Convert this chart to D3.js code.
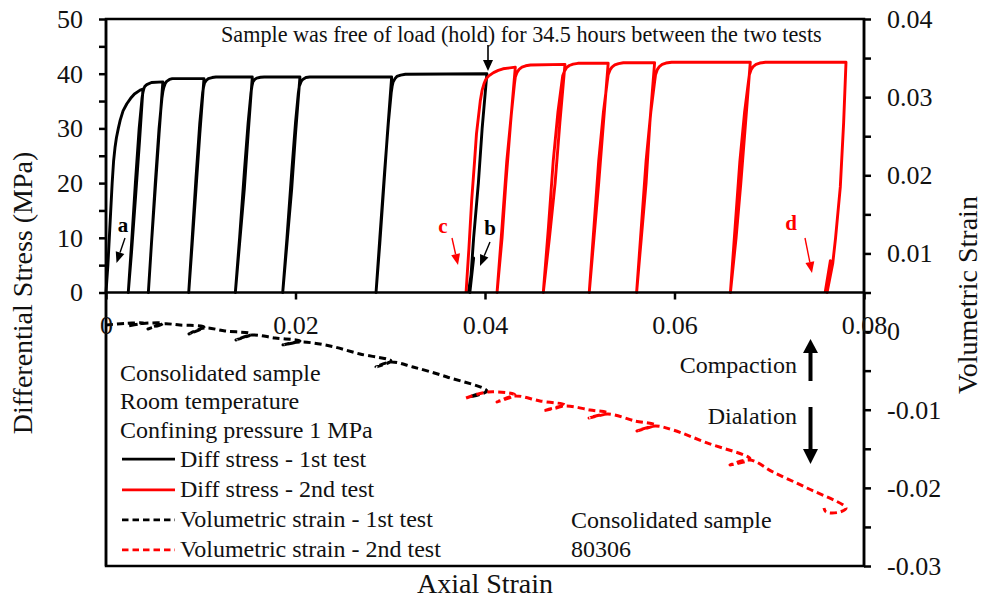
<!DOCTYPE html>
<html>
<head>
<meta charset="utf-8">
<script src="https://cdn.jsdelivr.net/npm/d3@7/dist/d3.min.js"></script>
<style>
  body { margin: 0; background: #fff; }
  svg { display: block; }
  text { font-family: "Liberation Serif", "Times New Roman", serif; fill: #111; }
</style>
</head>
<body>
<svg id="chart" width="983" height="600"></svg>
<script>
// Axis ticks
const strainTicks = [0, 0.02, 0.04, 0.06, 0.08];
const stressTicks = [0, 5, 10, 15, 20, 25, 30, 35, 40, 45, 50];
const stressLabels = [0, 10, 20, 30, 40, 50];
const volTicks = [-0.03, -0.025, -0.02, -0.015, -0.01, -0.005, 0, 0.005, 0.01, 0.015, 0.02, 0.025, 0.03, 0.035, 0.04];
const volLabels = [-0.03, -0.02, -0.01, 0, 0.01, 0.02, 0.03, 0.04];

// Differential stress (MPa) vs axial strain, 1st test (load/unload cycles)
const stress1 = [
  [0,0],[0.0002,5],[0.00035,10],[0.0005,15],[0.00065,20],[0.0008,24],[0.00095,26.5],[0.0011,28.3],[0.0013,30],[0.0015,31.5],[0.0018,33.2],[0.0022,34.5],[0.0026,35.5],[0.003,36.3],[0.0036,37],[0.0039,37.2],
  [0.00355,28],[0.0031,17],[0.0027,7.5],[0.00235,0],
  [0.0027,9],[0.0031,20],[0.0035,30],[0.0038,35.5],[0.0039,36.6],[0.004,37.3],[0.0041,37.7],[0.0043,38],[0.0048,38.4],[0.006,38.5],
  [0.0056,29],[0.0052,19],[0.0048,9],[0.00447,0],
  [0.0048,9],[0.0052,20],[0.0056,30],[0.0059,35.5],[0.006,36.7],[0.0061,37.5],[0.00625,38.2],[0.0064,38.6],[0.0067,38.95],[0.007,39.1],[0.01034,39.1],
  [0.0099,29],[0.0095,19],[0.0091,9],[0.00873,0],
  [0.0091,10],[0.0095,21],[0.0099,31],[0.0102,36.5],[0.0103,37.6],[0.0104,38.3],[0.0106,38.8],[0.0108,39.1],[0.0112,39.3],[0.0116,39.4],[0.01544,39.4],
  [0.015,29],[0.0146,19],[0.0141,9],[0.01365,0],
  [0.0141,10],[0.0146,22],[0.015,31],[0.0153,36.5],[0.0154,37.7],[0.0155,38.5],[0.0157,38.95],[0.0159,39.2],[0.0163,39.35],[0.0167,39.4],[0.02047,39.4],
  [0.02,29],[0.0196,19],[0.0191,9],[0.01865,0],
  [0.0191,10],[0.0196,22],[0.02,31],[0.0203,36.5],[0.0204,37.7],[0.0206,38.6],[0.0208,39],[0.0211,39.3],[0.0215,39.4],[0.022,39.4],[0.03015,39.4],
  [0.0297,29],[0.0293,19],[0.0289,9],[0.0285,0],
  [0.0289,10],[0.0294,22],[0.0298,31],[0.0301,36.5],[0.0302,37.7],[0.0303,38.5],[0.0305,39.1],[0.0307,39.5],[0.0311,39.75],[0.0316,39.9],[0.0402,40],
  [0.0397,30],[0.0393,20],[0.0388,10],[0.0384,0],[0.0388,6.3],[0.03825,0]
];

// Differential stress (MPa) vs axial strain, 2nd test
const stress2 = [
  [0.038,0],[0.0383,8],[0.0386,17],[0.0389,24],[0.0391,29],[0.0395,35],[0.0397,37],[0.0399,38.2],[0.0401,39],[0.0404,39.6],[0.0409,40.2],[0.0414,40.6],[0.0419,40.9],[0.0432,41.2],
  [0.0427,31],[0.0422,20],[0.0418,10],[0.04127,0],
  [0.0418,12],[0.0423,24],[0.0428,33],[0.0431,38],[0.0432,39.4],[0.0434,40.3],[0.0436,40.8],[0.0439,41.2],[0.0443,41.45],[0.0448,41.6],[0.04844,41.7],
  [0.0479,31],[0.0474,20],[0.0468,10],[0.04615,0],
  [0.0467,12],[0.0472,24],[0.0477,33],[0.0481,38.3],[0.0482,39.6],[0.0484,40.5],[0.0486,41.1],[0.0489,41.5],[0.0493,41.75],[0.0498,41.9],[0.053,41.9],
  [0.0525,31],[0.052,20],[0.0515,10],[0.051,0],
  [0.0515,12],[0.052,24],[0.0525,33],[0.0529,38.5],[0.053,39.8],[0.0532,40.7],[0.0534,41.2],[0.0537,41.6],[0.0541,41.85],[0.0546,42],[0.0579,42],
  [0.0574,31],[0.057,20],[0.0565,10],[0.056,0],
  [0.0565,12],[0.057,24],[0.0575,33],[0.0579,38.5],[0.058,39.8],[0.0582,40.8],[0.0584,41.3],[0.0587,41.7],[0.0591,41.95],[0.0597,42.1],[0.068,42.1],
  [0.0675,31],[0.067,20],[0.0665,10],[0.0659,0],
  [0.0664,12],[0.0669,24],[0.0674,33],[0.0678,38.5],[0.0679,39.8],[0.0681,40.8],[0.0683,41.3],[0.0686,41.7],[0.069,41.95],[0.0696,42.1],[0.0781,42.1],
  [0.07785,31],[0.0775,19.3],[0.077,10],[0.0767,5.3],[0.0761,0],[0.07645,5.8],[0.0759,0]
];

// Volumetric strain vs axial strain, 1st test
const vol1 = [
  [0,0.00084],[0.002,0.00104],[0.0039,0.0011],[0.00232,0.00072],[0.0039,0.00104],
  [0.006,0.00104],[0.00443,0.00033],[0.006,0.00097],[0.0078,0.00084],
  [0.01034,0.00059],[0.00876,-0.00031],[0.01034,0.00046],[0.01256,0.00008],
  [0.01541,-0.00031],[0.01372,-0.00107],[0.01541,-0.00044],[0.01784,-0.00082],
  [0.02047,-0.0012],[0.01868,-0.0017],[0.02047,-0.00133],[0.02364,-0.00184],[0.02681,-0.00287],
  [0.03008,-0.00376],[0.0285,-0.00453],[0.03008,-0.00389],[0.0324,-0.00453],[0.036,-0.00581],
  [0.0402,-0.0076],[0.0384,-0.00837],[0.0392,-0.008]
];

// Volumetric strain vs axial strain, 2nd test
const vol2 = [
  [0.038,-0.0085],[0.04032,-0.00773],[0.04317,-0.00811],[0.04127,-0.009],[0.04317,-0.00824],
  [0.0458,-0.00888],[0.04844,-0.00939],[0.04612,-0.01016],[0.04844,-0.00952],
  [0.05108,-0.01003],[0.05298,-0.01041],[0.05098,-0.01105],[0.05298,-0.01054],
  [0.05583,-0.01144],[0.05794,-0.01195],[0.05604,-0.01272],[0.05794,-0.01208],
  [0.05984,-0.01259],[0.06343,-0.01425],[0.06797,-0.0163],[0.06586,-0.01707],[0.06797,-0.01643],
  [0.0704,-0.01797],[0.07398,-0.02002],[0.0781,-0.02258],[0.07747,-0.02309],[0.07599,-0.02309],[0.07578,-0.02258]
];

// Text blocks
const conditionLines = ["Consolidated sample", "Room temperature", "Confining pressure 1 MPa"];
const legendLabels = ["Diff stress - 1st test", "Diff stress - 2nd test", "Volumetric strain - 1st test", "Volumetric strain - 2nd test"];
const sampleLines = ["Consolidated sample", "80306"];
const holdNote = "Sample was free of load (hold) for 34.5 hours between the two tests";

const svg = d3.select("#chart");
const W = 983, H = 600;
svg.append("rect").attr("width", W).attr("height", H).attr("fill", "#fff");

const L = 106, R = 864, T = 19, B = 566;
const x = d3.scaleLinear().domain([0, 0.08]).range([L, R]);
const yS = d3.scaleLinear().domain([0, 50]).range([292.5, T]);
const yV = d3.scaleLinear().domain([-0.03, 0.04]).range([B, T]);

const RED = "#ff0000", BLACK = "#000";
const FS_TICK = 26;

// Frame
svg.append("rect").attr("x", L).attr("y", T).attr("width", R - L).attr("height", B - T)
  .attr("fill", "none").attr("stroke", BLACK).attr("stroke-width", 2.5);

// Curves
const lineS = d3.line().x(d => x(d[0])).y(d => yS(d[1]));
const lineV = d3.line().x(d => x(d[0])).y(d => yV(d[1])).curve(d3.curveCatmullRom.alpha(0.5));

const plot = svg.append("g");
plot.append("path").datum(stress1).attr("d", lineS).attr("fill", "none")
  .attr("stroke", BLACK).attr("stroke-width", 2.9).attr("stroke-linejoin", "round");
plot.append("path").datum(stress2).attr("d", lineS).attr("fill", "none")
  .attr("stroke", RED).attr("stroke-width", 2.9).attr("stroke-linejoin", "round");
plot.append("path").datum(vol1).attr("d", lineV).attr("fill", "none")
  .attr("stroke", BLACK).attr("stroke-width", 3).attr("stroke-dasharray", "7,4");
plot.append("path").datum(vol2).attr("d", lineV).attr("fill", "none")
  .attr("stroke", RED).attr("stroke-width", 3).attr("stroke-dasharray", "7,4");

// Left axis: differential stress
const axL = svg.append("g").attr("transform", `translate(${L},0)`)
  .call(d3.axisLeft(yS).tickValues(stressTicks).tickSize(7).tickPadding(16)
    .tickFormat(d => stressLabels.includes(d) ? d3.format("d")(d) : ""));
// Right axis: volumetric strain
const axR = svg.append("g").attr("transform", `translate(${R},0)`)
  .call(d3.axisRight(yV).tickValues(volTicks).tickSize(7).tickPadding(16)
    .tickFormat(d => volLabels.some(v => Math.abs(v - d) < 1e-9) ? String(+d.toFixed(2)) : ""));
// Bottom axis at zero stress
const axB = svg.append("g").attr("transform", `translate(0,${yS(0)})`)
  .call(d3.axisBottom(x).tickValues(strainTicks).tickSize(7).tickPadding(16)
    .tickFormat(d => d === 0 ? "0" : String(d)));

[axL, axR, axB].forEach(g => {
  g.select(".domain").attr("stroke", BLACK).attr("stroke-width", 2.5);
  g.selectAll(".tick line").attr("stroke", BLACK).attr("stroke-width", 2.5);
  g.selectAll(".tick text").attr("font-size", FS_TICK).attr("fill", "#111")
    .attr("font-family", '"Liberation Serif", "Times New Roman", serif');
});
axL.select(".domain").attr("d", `M0,${T}V${B}`);
axR.select(".domain").attr("d", `M0,${T}V${B}`);
axB.select(".domain").attr("d", `M${L},0H${R}`);

// Axis titles
svg.append("text").attr("transform", "translate(32,293) rotate(-90)")
  .attr("text-anchor", "middle").attr("font-size", 28).text("Differential Stress (MPa)");
svg.append("text").attr("transform", "translate(977,295) rotate(-90)")
  .attr("text-anchor", "middle").attr("font-size", 28).text("Volumetric Strain");
svg.append("text").attr("x", 485).attr("y", 593)
  .attr("text-anchor", "middle").attr("font-size", 28).text("Axial Strain");

// Hold note with arrow
svg.append("text").attr("x", 221).attr("y", 42).attr("font-size", 22.2).text(holdNote);

function arrow(x1, y1, x2, y2, color, headLen, headW, width) {
  const ang = Math.atan2(y2 - y1, x2 - x1);
  const bx = x2 - headLen * Math.cos(ang), by = y2 - headLen * Math.sin(ang);
  svg.append("line").attr("x1", x1).attr("y1", y1).attr("x2", bx).attr("y2", by)
    .attr("stroke", color).attr("stroke-width", width);
  const px = -Math.sin(ang) * headW / 2, py = Math.cos(ang) * headW / 2;
  svg.append("polygon")
    .attr("points", `${x2},${y2} ${bx + px},${by + py} ${bx - px},${by - py}`)
    .attr("fill", color);
}
arrow(488, 45, 488, 71, BLACK, 11, 10, 1.6);

// Cycle markers a-d
const markers = [
  { t: "a", c: BLACK, tx: 123, ty: 232, a: [125, 238, 116.5, 263] },
  { t: "b", c: BLACK, tx: 490, ty: 235, a: [490, 242, 480, 266] },
  { t: "c", c: RED, tx: 443, ty: 233, a: [452, 238, 458, 265] },
  { t: "d", c: RED, tx: 791, ty: 230, a: [805, 238, 812, 273] }
];
markers.forEach(m => {
  svg.append("text").attr("x", m.tx).attr("y", m.ty).attr("text-anchor", "middle")
    .attr("font-size", 21).attr("font-weight", "bold").style("fill", m.c).text(m.t);
  arrow(m.a[0], m.a[1], m.a[2], m.a[3], m.c, 11, 9, 1.4);
});

// Compaction / dilation arrows
svg.append("text").attr("x", 797).attr("y", 373).attr("text-anchor", "end").attr("font-size", 24).text("Compaction");
svg.append("text").attr("x", 797).attr("y", 424).attr("text-anchor", "end").attr("font-size", 24).text("Dialation");
arrow(810.5, 381, 810.5, 339, BLACK, 14, 15, 4);
arrow(810.5, 407, 810.5, 464, BLACK, 15, 15, 4);

// Test conditions and legend
conditionLines.forEach((s, i) => {
  svg.append("text").attr("x", 120).attr("y", [381, 409.3, 437.7][i]).attr("font-size", 24).text(s);
});
const legY = [466.7, 497.3, 527.3, 557.3];
const legStyle = [[BLACK, null], [RED, null], [BLACK, "6.5,4"], [RED, "6.5,4"]];
legendLabels.forEach((s, i) => {
  svg.append("line").attr("x1", 122).attr("x2", 175).attr("y1", legY[i] - 7.5).attr("y2", legY[i] - 7.5)
    .attr("stroke", legStyle[i][0]).attr("stroke-width", 2.8)
    .attr("stroke-dasharray", legStyle[i][1]);
  svg.append("text").attr("x", 180).attr("y", legY[i]).attr("font-size", 24).text(s);
});
sampleLines.forEach((s, i) => {
  svg.append("text").attr("x", 571).attr("y", [528, 557][i]).attr("font-size", 24).text(s);
});
</script>
</body>
</html>
